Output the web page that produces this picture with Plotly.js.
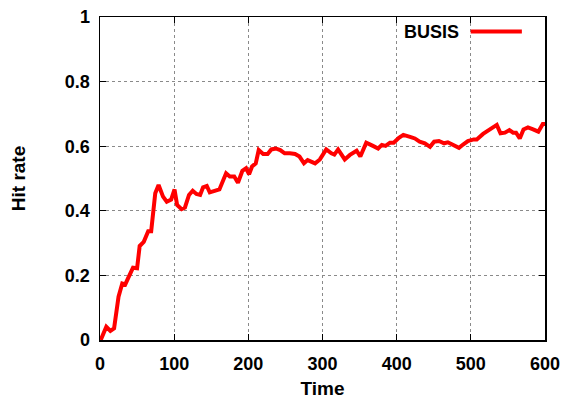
<!DOCTYPE html>
<html>
<head>
<meta charset="utf-8">
<script src="https://cdn.plot.ly/plotly-3.0.1.min.js"></script>
<style>
  html, body { margin: 0; padding: 0; background: #fff; }
  #chart { width: 566px; height: 403px; }
</style>
</head>
<body>
<div id="chart"></div>
<script>
// BUSIS hit rate over time
const seriesName = "BUSIS";
const time = [
  1, 8.5, 14, 19, 25, 30, 34, 39, 44.5, 50, 53.5, 59, 65, 69, 74.5, 79, 85, 90, 96, 100.5,
  104, 110, 114.5, 120, 125, 130, 135, 139, 144, 148, 154, 161, 170, 175, 181, 186, 192, 197,
  201, 205, 210, 214, 220, 226, 231, 237, 243, 249, 256, 263, 269, 275, 280, 285, 290, 296.5,
  300, 305, 312, 316, 321, 330, 337, 346, 351, 359, 368, 375, 380, 385, 391, 396, 403,
  409, 418, 424.5, 431, 438, 445, 450.5, 457, 464, 469, 476, 484, 490, 496, 504, 508,
  516.5, 525.5, 535, 540, 546, 552, 557, 561, 566, 571, 577, 584, 591, 597, 600
];
const hitRate = [
  0.0, 0.041, 0.028, 0.036, 0.134, 0.175, 0.172, 0.196, 0.224, 0.222, 0.291, 0.304, 0.337, 0.337, 0.454, 0.480, 0.444, 0.428, 0.435, 0.466,
  0.418, 0.405, 0.410, 0.449, 0.462, 0.452, 0.449, 0.473, 0.477, 0.457, 0.462, 0.466, 0.516, 0.506, 0.506, 0.487, 0.524, 0.532,
  0.513, 0.537, 0.547, 0.588, 0.576, 0.576, 0.590, 0.593, 0.588, 0.578, 0.578, 0.576, 0.568, 0.547, 0.557, 0.552, 0.547, 0.559,
  0.572, 0.590, 0.578, 0.574, 0.590, 0.559, 0.573, 0.586, 0.568, 0.611, 0.601, 0.593, 0.604, 0.601, 0.611, 0.611, 0.626,
  0.635, 0.629, 0.624, 0.614, 0.609, 0.598, 0.614, 0.616, 0.609, 0.612, 0.604, 0.595, 0.606, 0.616, 0.621, 0.621,
  0.638, 0.652, 0.666, 0.640, 0.642, 0.650, 0.642, 0.642, 0.624, 0.652, 0.658, 0.652, 0.645, 0.669, 0.669
];
const xTicks = [0, 100, 200, 300, 400, 500, 600];
const yTicks = [0, 0.2, 0.4, 0.6, 0.8, 1];

const font = { family: "Liberation Sans, Arial, sans-serif", color: "#000" };
const axisCommon = {
  showline: true, linecolor: "#000", linewidth: 1.5, mirror: "allticks",
  ticks: "inside", ticklen: 6, tickcolor: "#000", tickwidth: 1,
  showgrid: true, gridcolor: "#8a8a8a", griddash: "dot", gridwidth: 1,
  zeroline: false,
  tickfont: { family: font.family, size: 18, color: "#000", weight: "bold" },
  fixedrange: true
};

const trace = {
  x: time, y: hitRate, type: "scatter", mode: "lines", name: seriesName,
  line: { color: "#ff0000", width: 4 }, showlegend: false
};

const layout = {
  width: 566, height: 403,
  margin: { l: 100, r: 21, t: 17, b: 63 },
  paper_bgcolor: "#fff", plot_bgcolor: "#fff",
  font: font,
  xaxis: Object.assign({}, axisCommon, {
    range: [0, 600], tickvals: xTicks, ticklabelstandoff: 7,
    title: { text: "<b>Time</b>", font: { family: font.family, size: 19, color: "#000" }, standoff: 8 }
  }),
  yaxis: Object.assign({}, axisCommon, {
    range: [0, 1], tickvals: yTicks, ticklabelstandoff: 5,
    title: { text: "<b>Hit rate</b>", font: { family: font.family, size: 19, color: "#000" }, standoff: 34 }
  }),
  shapes: [
    { type: "rect", xref: "paper", yref: "paper", layer: "between",
      x0: 0.655, x1: 0.955, y0: 0.935, y1: 0.985,
      fillcolor: "#fff", line: { width: 0 } },
    { type: "line", xref: "paper", yref: "paper", layer: "above",
      x0: 0.833, x1: 0.948, y0: 0.955, y1: 0.955,
      line: { color: "#ff0000", width: 4 } }
  ],
  annotations: [
    { xref: "paper", yref: "paper", x: 0.812, y: 0.955, xanchor: "right", yanchor: "middle",
      text: "<b>" + seriesName + "</b>", showarrow: false,
      font: { family: font.family, size: 18, color: "#000" } }
  ]
};

Plotly.newPlot("chart", [trace], layout, { displayModeBar: false, staticPlot: true });
</script>
</body>
</html>
